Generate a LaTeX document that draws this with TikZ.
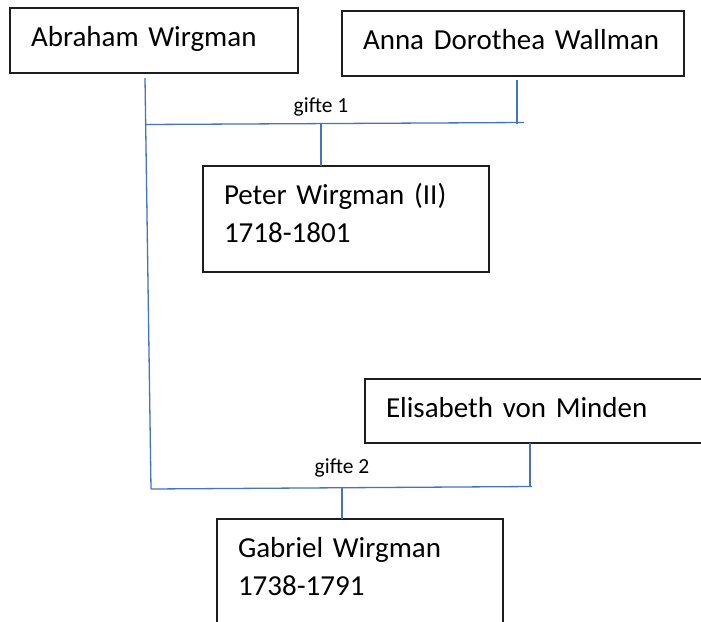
\documentclass[tikz,border=0pt]{standalone}
\usepackage{fontspec}
\setmainfont{Carlito}
\definecolor{linkblue}{RGB}{68,114,196}
\definecolor{boxline}{RGB}{30,30,30}
\begin{document}
\begin{tikzpicture}[x=1pt,y=-1pt,
  person/.style={draw=boxline, line width=1.3pt, anchor=north west, inner xsep=21pt, inner ysep=0pt,
    outer sep=0pt, align=left, text height=38pt, font=\fontsize{29}{38}\selectfont},
  oneline/.style={text depth=27pt},
  twoline/.style={text depth=68pt},
  conn/.style={draw=linkblue, line width=1.3pt},
  marr/.style={font=\fontsize{21.5}{25}\selectfont, anchor=base, inner sep=0pt}]
\useasboundingbox (0,0) rectangle (701,621);
\clip (0,0) rectangle (701,621);
\fill[white] (0,0) rectangle (701,621);

% persons
\node[person, oneline, text width=246pt] (abraham) at (10,8) {Abraham Wirgman};
\node[person, oneline, text width=300pt] (anna) at (342,11) {Anna Dorothea Wallman};
\node[person, twoline, text width=244pt] (peter) at (203,166) {Peter Wirgman (II)\\1718-1801};
\node[person, oneline, text width=330pt, text depth=26pt] (elisabeth) at (365,379) {Elisabeth von Minden};
\node[person, twoline, text width=244pt] (gabriel) at (217,519) {Gabriel Wirgman\\1738-1791};

% junction points
\coordinate (aTop) at (145,78);
\coordinate (aBot) at (151,489);
\coordinate (m1L) at (145.6,124.5);
\coordinate (m1R) at (524,122.5);
\coordinate (annaTop) at (517,80);
\coordinate (annaBot) at (517,123.5);
\coordinate (m1C) at (321,124);
\coordinate (peterTop) at (321,166);
\coordinate (m2R) at (532,486.5);
\coordinate (elisTop) at (530,443);
\coordinate (elisBot) at (530,487);
\coordinate (m2C) at (342,488);
\coordinate (gabTop) at (342,519);

% connectors
\draw[conn] (aTop) -- (aBot);
\draw[conn] (m1L) -- (m1R);
\draw[conn] (annaTop) -- (annaBot);
\draw[conn] (m1C) -- (peterTop);
\draw[conn] (aBot) -- (m2R);
\draw[conn] (elisTop) -- (elisBot);
\draw[conn] (m2C) -- (gabTop);

% marriage labels
\node[marr] (g1) at (321,112) {gifte 1};
\node[marr] (g2) at (342,473) {gifte 2};
\end{tikzpicture}
\end{document}
